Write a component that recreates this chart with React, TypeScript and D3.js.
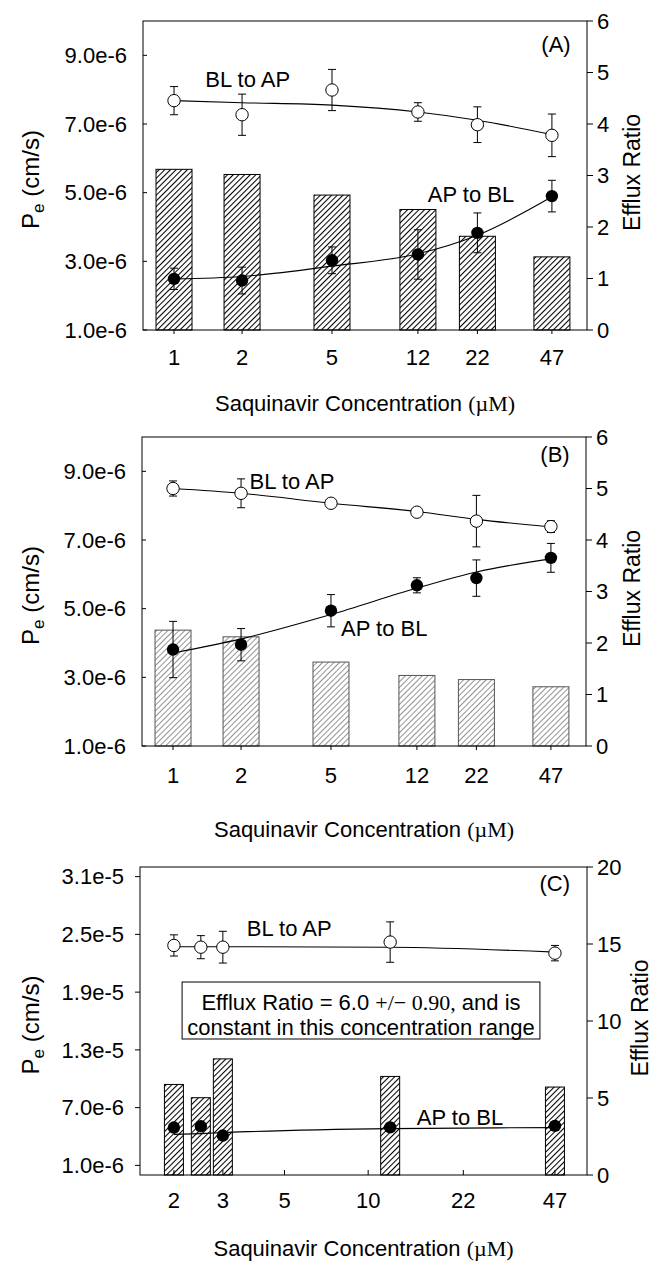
import React from 'react';
import * as d3 from 'd3';

// saquinavir concentrations (uM)
const concAB = [1, 2, 5, 12, 22, 47];
const concC = [2, 2.5, 3, 12, 47];
const xTicksAB = [1, 2, 5, 12, 22, 47];
const xTicksC = [2, 3, 5, 10, 22, 47];

// Pe values are in units of 1e-6 cm/s
// panel A
const ratioA = [3.12, 3.02, 2.62, 2.34, 1.82, 1.42];
const blapA = [7.68, 7.27, 7.99, 7.35, 6.98, 6.67];
const blapErrA = [0.41, 0.6, 0.6, 0.27, 0.52, 0.62];
const blapFitA = [7.68, 7.62, 7.55, 7.35, 7.11, 6.69];
const apblA = [2.49, 2.44, 3.03, 3.2, 3.83, 4.9];
const apblErrA = [0.31, 0.39, 0.39, 0.72, 0.58, 0.46];
const apblFitA = [2.49, 2.56, 2.86, 3.22, 3.76, 4.88];

// panel B
const ratioB = [2.25, 2.12, 1.63, 1.37, 1.29, 1.15];
const blapB = [8.5, 8.36, 8.07, 7.81, 7.55, 7.39];
const blapErrB = [0.22, 0.42, 0.1, 0.1, 0.75, 0.17];
const blapFitB = [8.5, 8.36, 8.07, 7.83, 7.6, 7.38];
const apblB = [3.81, 3.95, 4.94, 5.68, 5.89, 6.48];
const apblErrB = [0.82, 0.47, 0.47, 0.22, 0.53, 0.42];
const apblFitB = [3.71, 4.12, 4.83, 5.6, 6.07, 6.45];

// panel C
const ratioC = [5.88, 5.02, 7.54, 6.4, 5.71];
const blapC = [23.85, 23.67, 23.67, 24.2, 23.05];
const blapErrC = [1.1, 1.2, 1.65, 2.1, 0.8];
const blapFitC = [23.72, 23.72, 23.72, 23.66, 23.16];
const apblC = [4.93, 5.06, 4.1, 4.95, 5.1];
const apblErrC = [0.3, 0.3, 0.3, 0.3, 0.3];
const apblFitC = [4.22, 4.3, 4.4, 4.82, 4.92];

const peTicksAB = [1, 3, 5, 7, 9];
const peTicksC = [1, 7, 13, 19, 25, 31];
const ratioTicksAB = [0, 1, 2, 3, 4, 5, 6];
const ratioTicksC = [0, 5, 10, 15, 20];

const SANS = '"Liberation Sans", Arial, Helvetica, sans-serif';
const SERIF = '"Liberation Serif", "Times New Roman", serif';

const fmtPe = (v: number) => (v < 10 ? v.toFixed(1) + 'e-6' : (v / 10).toFixed(1) + 'e-5');

const panels = [
  {
    id: 'A', left: 143, right: 587, top: 21, bottom: 330,
    xDomain: [0.729, 67.2], xTicks: xTicksAB, conc: concAB,
    peDomain: [1, 10], peTicks: peTicksAB, ratioDomain: [0, 6], ratioTicks: ratioTicksAB,
    ratio: ratioA, blap: blapA, blapErr: blapErrA, blapFit: blapFitA,
    apbl: apblA, apblErr: apblErrA, apblFit: apblFitA,
    barW: 36, hatch: '#000', hatchW: 1.1, barStroke: '#000',
    leftTickIn: true, bottomTickIn: false, tickLabelDy: 35, titleDy: 81,
    blLabel: [2.12, 8.07], apLabel: [20.6, 4.74], tag: [49, 9.09],
  },
  {
    id: 'B', left: 142, right: 586, top: 437, bottom: 746,
    xDomain: [0.729, 67.2], xTicks: xTicksAB, conc: concAB,
    peDomain: [1, 10], peTicks: peTicksAB, ratioDomain: [0, 6], ratioTicks: ratioTicksAB,
    ratio: ratioB, blap: blapB, blapErr: blapErrB, blapFit: blapFitB,
    apbl: apblB, apblErr: apblErrB, apblFit: apblFitB,
    barW: 36, hatch: '#777', hatchW: 0.8, barStroke: '#555',
    leftTickIn: true, bottomTickIn: false, tickLabelDy: 37, titleDy: 91,
    blLabel: [3.36, 8.48], apLabel: [8.6, 4.2], tag: [49, 9.27],
  },
  {
    id: 'C', left: 140, right: 587, top: 867, bottom: 1175,
    xDomain: [1.51, 61.3], xTicks: xTicksC, conc: concC,
    peDomain: [0, 32], peTicks: peTicksC, ratioDomain: [0, 20], ratioTicks: ratioTicksC,
    ratio: ratioC, blap: blapC, blapErr: blapErrC, blapFit: blapFitC,
    apbl: apblC, apblErr: apblErrC, apblFit: apblFitC,
    barW: 19, hatch: '#000', hatchW: 1.1, barStroke: '#000',
    leftTickIn: false, bottomTickIn: true, tickLabelDy: 33, titleDy: 81,
    blLabel: [5.2, 24.83], apLabel: [21.4, 5.2], tag: [46.9, 29.5],
  },
];

function Panel({ p }: { p: any }) {
  const x = d3.scaleLog().domain(p.xDomain).range([p.left, p.right]);
  const yL = d3.scaleLinear().domain(p.peDomain).range([p.bottom, p.top]);
  const yR = d3.scaleLinear().domain(p.ratioDomain).range([p.bottom, p.top]);
  const fit = d3
    .line<number>()
    .x((_, i) => x(p.conc[i]))
    .y(v => yL(v))
    .curve(d3.curveMonotoneX);
  const midY = (p.top + p.bottom) / 2;
  const midX = (p.left + p.right) / 2;
  const r = 6.2;

  const errBars = (vals: number[], errs: number[]) =>
    vals.map((v, i) => {
      const cx = x(p.conc[i]);
      const y1 = yL(v + errs[i]);
      const y2 = yL(v - errs[i]);
      return (
        <g key={i} stroke="#000" strokeWidth={1}>
          <line x1={cx} x2={cx} y1={y1} y2={y2} />
          <line x1={cx - 4} x2={cx + 4} y1={y1} y2={y1} />
          <line x1={cx - 4} x2={cx + 4} y1={y2} y2={y2} />
        </g>
      );
    });

  return (
    <g fontFamily={SANS} fontSize={22}>
      <defs>
        <pattern id={'hatch' + p.id} patternUnits="userSpaceOnUse" width={4} height={4} patternTransform="rotate(45)">
          <rect width={4} height={4} fill="#fff" />
          <line x1={0.5} y1={0} x2={0.5} y2={4} stroke={p.hatch} strokeWidth={p.hatchW} />
        </pattern>
      </defs>

      {/* efflux ratio bars */}
      {p.ratio.map((v: number, i: number) => (
        <rect
          key={i}
          x={x(p.conc[i]) - p.barW / 2}
          y={yR(v)}
          width={p.barW}
          height={yR(0) - yR(v)}
          fill={`url(#hatch${p.id})`}
          stroke={p.barStroke}
          strokeWidth={1}
        />
      ))}

      {/* frame */}
      <rect x={p.left} y={p.top} width={p.right - p.left} height={p.bottom - p.top} fill="none" stroke="#000" strokeWidth={1} />

      {/* fitted curves */}
      <path d={fit(p.blapFit) || ''} fill="none" stroke="#000" strokeWidth={1.1} />
      <path d={fit(p.apblFit) || ''} fill="none" stroke="#000" strokeWidth={1.1} />

      {errBars(p.blap, p.blapErr)}
      {errBars(p.apbl, p.apblErr)}

      {p.blap.map((v: number, i: number) => (
        <circle key={'o' + i} cx={x(p.conc[i])} cy={yL(v)} r={r} fill="#fff" stroke="#000" strokeWidth={1} />
      ))}
      {p.apbl.map((v: number, i: number) => (
        <circle key={'f' + i} cx={x(p.conc[i])} cy={yL(v)} r={r} fill="#000" />
      ))}

      {/* labels */}
      <text x={x(p.blLabel[0])} y={yL(p.blLabel[1])} textAnchor="middle">BL to AP</text>
      <text x={x(p.apLabel[0])} y={yL(p.apLabel[1])} textAnchor="middle">AP to BL</text>
      <text x={x(p.tag[0])} y={yL(p.tag[1])} textAnchor="middle">({p.id})</text>

      {/* left axis */}
      {p.peTicks.map((t: number) => (
        <g key={'l' + t}>
          <line
            x1={p.left}
            x2={p.leftTickIn ? p.left + 4 : p.left - 5}
            y1={yL(t)}
            y2={yL(t)}
            stroke="#000"
          />
          <text x={p.left - 16} y={yL(t)} dy="0.35em" textAnchor="end">{fmtPe(t)}</text>
        </g>
      ))}

      {/* right axis */}
      {p.ratioTicks.map((t: number) => (
        <g key={'r' + t}>
          <line x1={p.right} x2={p.right + 6} y1={yR(t)} y2={yR(t)} stroke="#000" />
          <text x={p.right + 10} y={yR(t)} dy="0.35em" textAnchor="start">{t}</text>
        </g>
      ))}

      {/* bottom axis */}
      {p.xTicks.map((t: number) => (
        <g key={'b' + t}>
          <line
            x1={x(t)}
            x2={x(t)}
            y1={p.bottom}
            y2={p.bottom + (p.bottomTickIn ? -5 : 4)}
            stroke="#000"
          />
          <text x={x(t)} y={p.bottom + p.tickLabelDy} textAnchor="middle">{t}</text>
        </g>
      ))}

      {/* axis titles */}
      <text x={midX} y={p.bottom + p.titleDy} textAnchor="middle">
        Saquinavir Concentration <tspan fontFamily={SERIF}>(µM)</tspan>
      </text>
      <text transform={`translate(39,${midY + 4}) rotate(-90)`} textAnchor="middle" fontSize={24}>
        P<tspan fontSize={17} dy={5}>e</tspan>
        <tspan dy={-5}> (cm/s)</tspan>
      </text>
      <text
        transform={`translate(${p.id === 'C' ? 648 : 640},${midY - 3}) rotate(-90)`}
        textAnchor="middle"
        fontSize={23}
      >
        Efflux Ratio
      </text>
    </g>
  );
}

export default function App() {
  const pc = panels[2];
  const xc = d3.scaleLog().domain(pc.xDomain).range([pc.left, pc.right]);
  const yc = d3.scaleLinear().domain(pc.peDomain).range([pc.bottom, pc.top]);
  // note box in panel C (data coords)
  const boxX = [2.14, 41.5];
  const boxY = [14.13, 20.05];
  return (
    <svg
      width={653}
      height={1261}
      viewBox="0 0 653 1261"
      style={{ position: 'absolute', left: 0, top: 0, background: '#fff' }}
    >
      <rect width={653} height={1261} fill="#fff" />
      {panels.map(p => (
        <Panel key={p.id} p={p} />
      ))}
      <g fontFamily={SANS} fontSize={22}>
        <rect
          x={xc(boxX[0])}
          y={yc(boxY[1])}
          width={xc(boxX[1]) - xc(boxX[0])}
          height={yc(boxY[0]) - yc(boxY[1])}
          fill="#fff"
          stroke="#000"
          strokeWidth={1}
        />
        <text x={(xc(boxX[0]) + xc(boxX[1])) / 2} y={yc(17.14)} textAnchor="middle">
          Efflux Ratio = 6.0 <tspan fontFamily={SERIF}>+/− 0.90,</tspan> and is
        </text>
        <text x={(xc(boxX[0]) + xc(boxX[1])) / 2} y={yc(14.55)} textAnchor="middle">
          constant in this concentration range
        </text>
      </g>
    </svg>
  );
}
